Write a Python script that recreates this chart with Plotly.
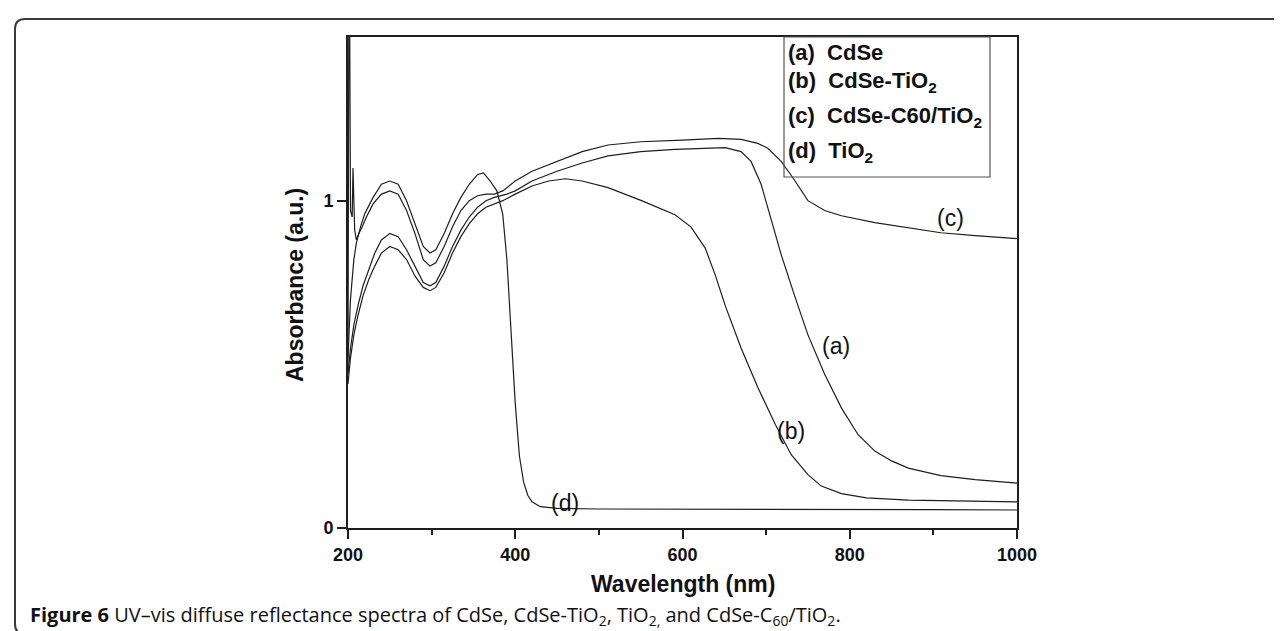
import plotly.graph_objects as go

# ---------------- data ----------------
wl_a = [200, 203, 207, 212, 218, 225, 232, 240, 250, 260, 270, 280, 290, 298, 305, 315, 325, 335, 345, 355,
        365, 375, 390, 400, 420, 450, 480, 511, 550, 591, 630, 651, 670, 682, 694, 706, 718, 734, 750, 770,
        790, 810, 830, 850, 870, 909, 950, 1000]
abs_a = [0.47, 0.55, 0.62, 0.68, 0.74, 0.79, 0.84, 0.88, 0.90, 0.89, 0.85, 0.80, 0.75, 0.74, 0.75, 0.80, 0.86, 0.91,
         0.95, 0.98, 1.00, 1.01, 1.02, 1.03, 1.06, 1.09, 1.115, 1.137, 1.15, 1.157, 1.16, 1.162, 1.15, 1.12, 1.05,
         0.94, 0.835, 0.71, 0.59, 0.47, 0.367, 0.285, 0.235, 0.205, 0.183, 0.16, 0.148, 0.137]

wl_b = [200, 203, 207, 212, 218, 225, 232, 240, 250, 260, 270, 280, 290, 298, 305, 315, 325, 335, 345, 355,
        365, 375, 385, 400, 420, 440, 460, 480, 511, 551, 591, 610, 627, 639, 651, 670, 690, 711, 730, 750,
        766, 790, 820, 870, 930, 1000]
abs_b = [0.44, 0.52, 0.59, 0.65, 0.71, 0.76, 0.80, 0.84, 0.86, 0.85, 0.82, 0.77, 0.735, 0.725, 0.735, 0.78, 0.84,
         0.89, 0.93, 0.96, 0.98, 0.99, 1.00, 1.02, 1.045, 1.06, 1.067, 1.06, 1.04, 1.00, 0.957, 0.92, 0.856, 0.774,
         0.68, 0.55, 0.43, 0.316, 0.224, 0.163, 0.128, 0.105, 0.092, 0.085, 0.082, 0.08]

wl_c = [200, 201, 202, 203, 205, 206, 207, 208, 210, 213, 217, 222, 230, 240, 250, 260, 270, 280, 290, 298,
        305, 315, 325, 335, 345, 355, 365, 375, 385, 400, 420, 450, 480, 511, 550, 600, 643, 670, 690, 702,
        718, 732, 750, 770, 790, 830, 870, 909, 950, 1000]
abs_c = [0.48, 1.6, 1.55, 0.97, 0.95, 1.10, 1.0, 0.91, 0.88, 0.90, 0.92, 0.95, 0.99, 1.02, 1.03, 1.02, 0.97, 0.90,
         0.82, 0.80, 0.81, 0.86, 0.92, 0.97, 1.00, 1.015, 1.02, 1.02, 1.03, 1.06, 1.09, 1.12, 1.15, 1.17, 1.18,
         1.185, 1.19, 1.187, 1.175, 1.16, 1.12, 1.07, 1.00, 0.97, 0.954, 0.933, 0.917, 0.902, 0.893, 0.884]

wl_d = [200, 203, 207, 210, 215, 220, 230, 240, 250, 260, 270, 280, 290, 298, 305, 315, 325, 335, 345, 355,
        362, 370, 378, 385, 390, 395, 400, 405, 410, 415, 420, 430, 450, 500, 600, 700, 800, 900, 1000]
abs_d = [0.52, 0.70, 0.82, 0.87, 0.92, 0.96, 1.01, 1.05, 1.06, 1.05, 1.00, 0.93, 0.86, 0.84, 0.85, 0.90, 0.96,
         1.01, 1.05, 1.08, 1.085, 1.06, 1.03, 0.96, 0.82, 0.60, 0.38, 0.22, 0.14, 0.10, 0.08, 0.065, 0.06, 0.058,
         0.058, 0.057, 0.056, 0.056, 0.055]

series_names = ["(a)", "(b)", "(c)", "(d)"]
legend_texts = ["(a)\u00a0\u00a0CdSe", "(b)\u00a0\u00a0CdSe-TiO<sub>2</sub>",
                "(c)\u00a0\u00a0CdSe-C60/TiO<sub>2</sub>", "(d)\u00a0\u00a0TiO<sub>2</sub>"]
curve_label_x = [784, 730, 920, 460]
curve_label_y = [0.557, 0.297, 0.948, 0.075]
x_tick_vals = [200, 400, 600, 800, 1000]
y_tick_vals = [0, 1]

# ---------------- layout geometry (pixels) ----------------
W, H = 1282, 631
L, R, T, B = 340, 1009, 29, 520
pw, ph = R - L, B - T


def xp(px):
    return (px - L) / pw


def yp(py):
    return (B - py) / ph


LINE = "#1e1e1e"
fig = go.Figure()
for wl, ab, nm in zip([wl_a, wl_b, wl_c, wl_d], [abs_a, abs_b, abs_c, abs_d], series_names):
    fig.add_trace(go.Scatter(x=wl, y=ab, mode="lines", name=nm,
                             line=dict(color=LINE, width=1.2), showlegend=False))

annotations = []
# curve labels
for t, x, y in zip(series_names, curve_label_x, curve_label_y):
    annotations.append(dict(x=x, y=y, xref="x", yref="y", text=t, showarrow=False,
                            font=dict(family="Liberation Sans, Arial", size=23, color="#111")))
# legend box text
leg_y_px = [45, 74, 109, 144]
for t, py in zip(legend_texts, leg_y_px):
    annotations.append(dict(x=xp(778), y=yp(py), xref="paper", yref="paper", text="<b>" + t + "</b>",
                            showarrow=False, xanchor="left", yanchor="middle",
                            font=dict(family="Liberation Sans, Arial", size=22, color="#111")))
# axis titles
annotations.append(dict(x=xp(675), y=yp(576), xref="paper", yref="paper", text="<b>Wavelength (nm)</b>",
                        showarrow=False, xanchor="center", yanchor="middle",
                        font=dict(family="Liberation Sans, Arial", size=23, color="#111")))
annotations.append(dict(x=xp(287), y=yp(277), xref="paper", yref="paper", text="<b>Absorbance (a.u.)</b>",
                        showarrow=False, xanchor="center", yanchor="middle", textangle=-90,
                        font=dict(family="Liberation Sans, Arial", size=23, color="#111")))
# caption
annotations.append(dict(x=xp(20), y=yp(607), xref="paper", yref="paper",
                        text="<b>Figure 6</b> UV\u2013vis diffuse reflectance spectra of CdSe, CdSe-TiO<sub>2</sub>, "
                             "TiO<sub>2,</sub> and CdSe-C<sub>60</sub>/TiO<sub>2</sub>.",
                        showarrow=False, xanchor="left", yanchor="middle",
                        font=dict(family="Open Sans, Noto Sans", size=20, color="#111")))

# frame with rounded corners
x0, x1, y0, y1, r = 7, 1275, 11, 626, 10
path = (f"M {xp(x0 + r)} {yp(y0)} L {xp(x1 - r)} {yp(y0)} Q {xp(x1)} {yp(y0)} {xp(x1)} {yp(y0 + r)} "
        f"L {xp(x1)} {yp(y1 - r)} Q {xp(x1)} {yp(y1)} {xp(x1 - r)} {yp(y1)} "
        f"L {xp(x0 + r)} {yp(y1)} Q {xp(x0)} {yp(y1)} {xp(x0)} {yp(y1 - r)} "
        f"L {xp(x0)} {yp(y0 + r)} Q {xp(x0)} {yp(y0)} {xp(x0 + r)} {yp(y0)} Z")
shapes = [
    dict(type="path", path=path, xref="paper", yref="paper", line=dict(color="#3a3a3a", width=2)),
    dict(type="rect", xref="paper", yref="paper", x0=xp(776), x1=xp(982), y0=yp(169), y1=1,
         line=dict(color="#555", width=1.2)),
]

fig.update_layout(
    width=W, height=H, autosize=False,
    margin=dict(l=L, r=W - R, t=T, b=H - B),
    paper_bgcolor="white", plot_bgcolor="white",
    annotations=annotations, shapes=shapes,
    xaxis=dict(range=[200, 1000], tickvals=x_tick_vals, ticks="outside", ticklen=9, tickwidth=2,
               tickcolor=LINE, showline=True, linecolor=LINE, linewidth=2, mirror=True,
               showgrid=False, zeroline=False,
               tickfont=dict(family="Liberation Sans, Arial", size=18, color="#111", weight="bold"),
               minor=dict(dtick=100, tick0=200, ticks="outside", ticklen=5, tickwidth=2, tickcolor=LINE)),
    yaxis=dict(range=[0, 1.5], tickvals=y_tick_vals, ticks="outside", ticklen=9, tickwidth=2,
               tickcolor=LINE, showline=True, linecolor=LINE, linewidth=2, mirror=True,
               showgrid=False, zeroline=False,
               tickfont=dict(family="Liberation Sans, Arial", size=18, color="#111", weight="bold")),
)

fig.write_html("out.html")
